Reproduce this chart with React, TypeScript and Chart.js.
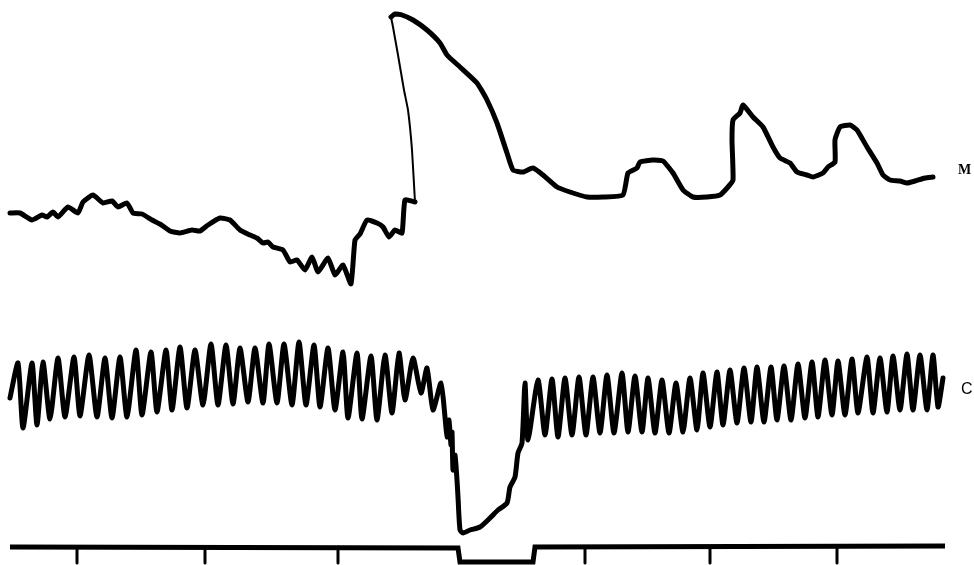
import React, { useEffect, useRef } from "react";
import { Chart, registerables } from "chart.js";

Chart.register(...registerables);

// Kymograph trace readings: [time, deflection] (deflection grows downward on the record)
const muscleTraceBefore: number[][] = [
  [10, 213], [20, 213], [32, 220], [42, 215], [47, 217], [53, 212], [58, 217], [68, 207],
  [78, 213], [83, 202], [93, 195], [103, 203], [112, 201], [118, 207], [127, 203], [133, 213],
  [142, 214], [152, 220], [160, 224], [170, 231], [180, 233], [192, 230], [200, 231], [208, 225],
  [220, 218], [230, 220], [240, 230], [250, 235], [257, 238], [263, 243], [268, 242], [273, 247],
  [283, 250], [290, 262], [297, 260], [305, 270], [312, 257], [318, 272], [328, 258], [335, 275],
  [343, 265], [351, 284], [355, 240], [360, 234], [367, 220], [377, 223], [383, 227], [389, 237],
  [395, 230], [402, 233], [405, 200], [415, 202],
];

const muscleTraceRise: number[][] = [
  [415, 202], [412, 150], [408, 110], [404, 90], [398, 55], [393, 27], [391, 17],
];

const muscleTraceAfter: number[][] = [
  [391, 17], [395, 14], [402, 15], [413, 20], [427, 30], [440, 43], [447, 55], [460, 67],
  [477, 83], [487, 100], [497, 123], [507, 153], [513, 170], [523, 172], [533, 168], [543, 175],
  [557, 187], [570, 192], [587, 197], [603, 197], [623, 195], [628, 173], [637, 168], [640, 162],
  [653, 160], [663, 161], [673, 173], [683, 190], [693, 197], [707, 197], [720, 195], [728, 187],
  [733, 180], [732, 140], [733, 120], [740, 113], [743, 105], [753, 117], [763, 127], [773, 147],
  [780, 158], [790, 163], [797, 172], [807, 175], [813, 177], [823, 173], [828, 167], [835, 162],
  [835, 140], [840, 127], [850, 125], [857, 130], [867, 147], [877, 163], [883, 175], [890, 180],
  [900, 181], [907, 183], [915, 181], [925, 178], [933, 177],
];

const cardiacTrace: number[][] = [
  [10, 398], [18, 363], [23, 428], [32, 363], [37, 425], [43, 362], [50, 419], [58, 358],
  [65, 417], [74, 357], [80, 416], [89, 355], [97, 417], [105, 358], [112, 418], [120, 357],
  [127, 417], [136, 350], [142, 415], [151, 352], [157, 412], [166, 350], [172, 410], [180, 347],
  [187, 408], [195, 350], [203, 405], [211, 344], [218, 405], [226, 345], [233, 404], [240, 348],
  [248, 402], [255, 348], [263, 403], [269, 344], [277, 403], [284, 344], [292, 405], [299, 342],
  [306, 405], [314, 345], [320, 407], [328, 348], [335, 410], [343, 352], [348, 418], [357, 353],
  [362, 419], [371, 356], [377, 420], [385, 355], [392, 413], [399, 353], [405, 400], [413, 358],
  [421, 393], [427, 368], [433, 410], [441, 383], [445, 417], [447, 437], [449, 420], [451, 445],
  [452, 432], [453, 470], [455, 455], [457, 480], [458, 497], [460, 530], [463, 533], [470, 530],
  [480, 527], [490, 518], [498, 510], [507, 503], [510, 487], [515, 477], [518, 453], [522, 443],
  [525, 383], [528, 440], [538, 380], [545, 435], [552, 379], [558, 437], [565, 378], [572, 435],
  [579, 377], [586, 435], [593, 377], [600, 433], [607, 375], [614, 433], [622, 373], [628, 432],
  [635, 376], [642, 432], [648, 378], [655, 433], [662, 380], [669, 433], [676, 383], [683, 432],
  [690, 378], [697, 430], [703, 373], [710, 427], [717, 372], [723, 425], [730, 370], [737, 423],
  [744, 368], [751, 422], [757, 367], [764, 422], [771, 367], [777, 420], [784, 366], [791, 420],
  [798, 364], [805, 418], [812, 362], [818, 417], [825, 360], [832, 415], [838, 361], [845, 415],
  [852, 359], [858, 413], [867, 357], [873, 413], [880, 358], [887, 412], [893, 356], [900, 410],
  [907, 354], [913, 410], [920, 355], [927, 410], [933, 355], [938, 407], [943, 378],
];

const signalLine: number[][] = [
  [10, 547], [458, 548], [460, 562], [533, 562], [535, 547], [945, 546],
];

const timeMarks: number[] = [77, 205, 338, 585, 710, 837];
const markTop = 547;
const markBottom = 563;

const traceLabels = [
  { text: "M", left: 958, top: 163, font: "bold 14px 'Liberation Serif', serif" },
  { text: "C", left: 961, top: 381, font: "16px 'Liberation Sans', sans-serif" },
];

const toPoints = (arr: number[][]) => arr.map(([x, y]) => ({ x, y }));

export default function App() {
  const canvasRef = useRef<HTMLCanvasElement | null>(null);

  useEffect(() => {
    document.body.style.margin = "0";
    const canvas = canvasRef.current;
    if (!canvas) return;

    const tickPoints: any[] = [];
    timeMarks.forEach((t) => {
      tickPoints.push({ x: t, y: markTop }, { x: t, y: markBottom }, { x: t + 0.5, y: null });
    });

    const base = {
      borderColor: "#000",
      pointRadius: 0,
      fill: false,
      borderCapStyle: "round" as const,
      borderJoinStyle: "round" as const,
    };

    const chart = new Chart(canvas, {
      type: "line",
      data: {
        datasets: [
          { ...base, data: toPoints(muscleTraceBefore), borderWidth: 5, tension: 0.15 },
          { ...base, data: toPoints(muscleTraceRise), borderWidth: 2, tension: 0.1 },
          { ...base, data: toPoints(muscleTraceAfter), borderWidth: 5, tension: 0.15 },
          { ...base, data: toPoints(cardiacTrace), borderWidth: 5, tension: 0.2 },
          { ...base, data: toPoints(signalLine), borderWidth: 5, tension: 0, borderCapStyle: "butt", borderJoinStyle: "miter" },
          { ...base, data: tickPoints, borderWidth: 3, tension: 0, spanGaps: false },
        ] as any,
      },
      options: {
        responsive: false,
        animation: false,
        layout: { padding: 0 },
        parsing: false as any,
        normalized: true,
        scales: {
          x: { type: "linear", min: 0, max: 974, display: false },
          y: { type: "linear", min: 0, max: 565, reverse: true, display: false },
        },
        plugins: {
          legend: { display: false },
          tooltip: { enabled: false },
        },
        events: [],
      },
    });

    return () => chart.destroy();
  }, []);

  return (
    <div style={{ position: "relative", width: 974, height: 565, background: "#fff" }}>
      <canvas ref={canvasRef} width={974} height={565} style={{ display: "block" }} />
      {traceLabels.map((l) => (
        <span
          key={l.text}
          style={{
            position: "absolute",
            left: l.left,
            top: l.top,
            font: l.font,
            lineHeight: 1,
            color: "#000",
          }}
        >
          {l.text}
        </span>
      ))}
    </div>
  );
}
